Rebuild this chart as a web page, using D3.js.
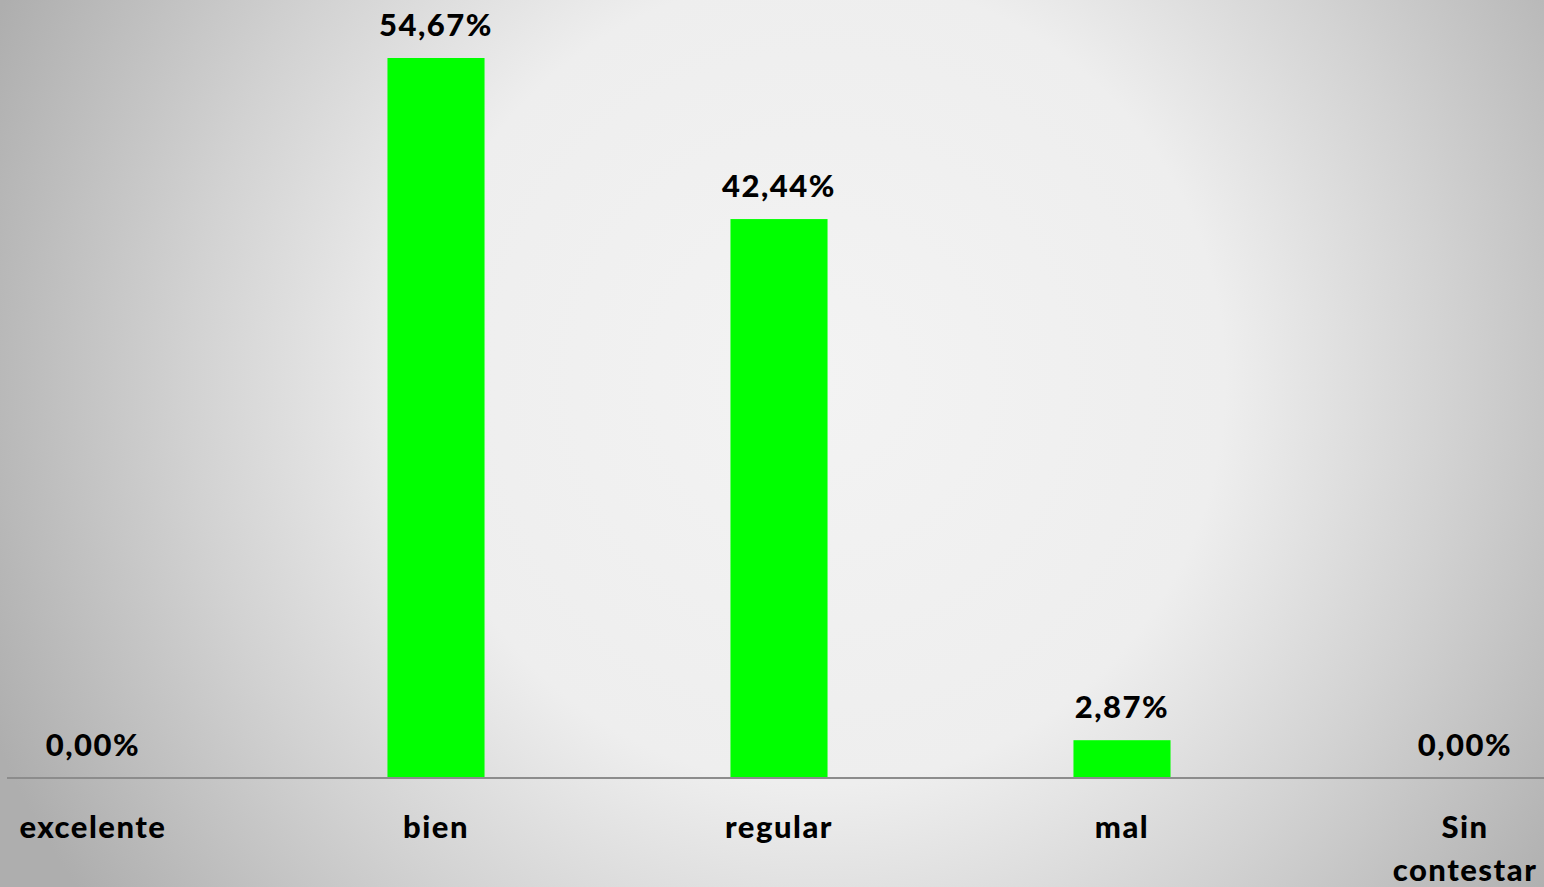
<!DOCTYPE html>
<html><head><meta charset="utf-8">
<script src="https://cdn.jsdelivr.net/npm/d3@7"></script>
<style>html,body{margin:0;padding:0;overflow:hidden;background:#c8c8c8}</style>
</head><body>
<script>
const categories = ["excelente", "bien", "regular", "mal", "Sin contestar"];
const values = [0.00, 54.67, 42.44, 2.87, 0.00];
const valueLabels = ["0,00%", "54,67%", "42,44%", "2,87%", "0,00%"];
const categoryLines = [["excelente"], ["bien"], ["regular"], ["mal"], ["Sin", "contestar"]];

const W = 1544, H = 887;
const svg = d3.select("body").append("svg").attr("width", W).attr("height", H);
const defs = svg.append("defs");
const rg = defs.append("radialGradient").attr("id", "bg")
  .attr("gradientUnits", "userSpaceOnUse")
  .attr("cx", 820).attr("cy", 380).attr("r", 900);
rg.append("stop").attr("offset", "0").attr("stop-color", "#f3f3f3");
rg.append("stop").attr("offset", "0.45").attr("stop-color", "#eeeeee");
rg.append("stop").attr("offset", "0.7").attr("stop-color", "#d2d2d2");
rg.append("stop").attr("offset", "1").attr("stop-color", "#aeaeae");
svg.append("rect").attr("width", W).attr("height", H).attr("fill", "url(#bg)");

const x = d3.scaleBand().domain(categories).range([-78.5, 1636.5]).paddingInner(0.717).paddingOuter(0.3585);
const y = d3.scaleLinear().domain([0, 54.67]).range([778, 58]);

const font = "Lato, 'Open Sans', sans-serif";

svg.selectAll("rect.bar").data(categories).join("rect").attr("class", "bar")
  .attr("x", d => x(d)).attr("width", x.bandwidth())
  .attr("y", (d, i) => y(values[i])).attr("height", (d, i) => y(0) - y(values[i]))
  .attr("fill", "#00ff00");

svg.append("line").attr("x1", 7).attr("x2", W).attr("y1", y(0)).attr("y2", y(0))
  .attr("stroke", "#8c8c8c").attr("stroke-width", 2);

svg.selectAll("text.val").data(categories).join("text").attr("class", "val")
  .attr("x", d => x(d) + x.bandwidth() / 2)
  .attr("y", (d, i) => y(values[i]) - 22)
  .attr("text-anchor", "middle").attr("font-family", font).attr("font-weight", 900)
  .attr("font-size", 31).attr("letter-spacing", 1.5).attr("fill", "#000")
  .text((d, i) => valueLabels[i]);

const cl = svg.selectAll("text.cat").data(categories).join("text").attr("class", "cat")
  .attr("x", d => x(d) + x.bandwidth() / 2)
  .attr("y", 838)
  .attr("text-anchor", "middle").attr("font-family", font).attr("font-weight", 900)
  .attr("font-size", 31).attr("letter-spacing", 1.5).attr("fill", "#000");
cl.each(function(d, i) {
  const t = d3.select(this);
  categoryLines[i].forEach((ln, j) => {
    t.append("tspan").attr("x", x(d) + x.bandwidth() / 2).attr("dy", j === 0 ? 0 : 43).text(ln);
  });
});
</script>
</body></html>
